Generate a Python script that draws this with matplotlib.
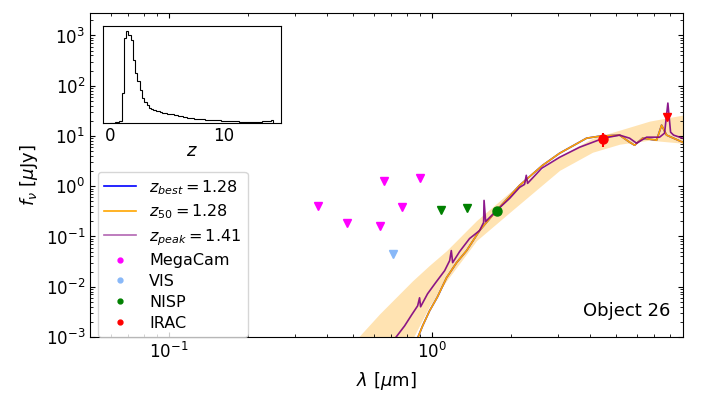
import numpy as np
import matplotlib
matplotlib.use('Agg')
import matplotlib.pyplot as plt
from matplotlib.lines import Line2D

# photometry (upper limits drawn as triangles, detections as circles)
megacam_lam = [0.368, 0.476, 0.636, 0.656, 0.766, 0.896]
megacam_lim = [0.40, 0.184, 0.158, 1.27, 0.39, 1.48]
vis_lam = [0.71]
vis_lim = [0.045]
nisp_lim_lam = [1.077, 1.36]
nisp_lim = [0.34, 0.37]
nisp_det_lam = [1.76]
nisp_det = [0.314]
irac_det_lam = [4.48]
irac_det = [8.9]
irac_det_err = [2.8]
irac_lim_lam = [7.84]
irac_lim = [23.4]

# template at z_peak
peak_lam = [0.689, 0.720, 0.786, 0.836, 0.881, 0.896, 0.904, 0.961, 1.031, 1.116,
            1.166, 1.183, 1.197, 1.272, 1.388, 1.516, 1.570, 1.576, 1.598, 1.759,
            1.971, 2.151, 2.247, 2.281, 2.307, 2.609, 3.054, 3.638, 4.488, 5.164,
            5.636, 5.993, 6.541, 7.328, 7.656, 7.881, 8.07, 8.285, 8.965]
peak_flux = [0.00066, 0.00091, 0.00166, 0.00275, 0.00416, 0.00601, 0.00398, 0.00723,
             0.01199, 0.02083, 0.0330, 0.0523, 0.0301, 0.0499, 0.0908, 0.1312, 0.1895,
             0.522, 0.1984, 0.329, 0.572, 0.948, 1.089, 1.648, 1.14, 2.27, 3.77, 5.97,
             9.04, 10.4, 9.04, 7.18, 9.46, 9.46, 11.38, 45.2, 11.9, 10.4, 9.04]

# template at z_best / z_50 (same redshift)
best_lam = [0.865, 0.881, 0.920, 0.978, 1.049, 1.135, 1.239, 1.353, 1.516, 1.759,
            2.151, 2.632, 3.054, 3.868, 4.335, 5.164, 5.636, 5.889, 6.317, 7.141,
            7.459, 7.792, 8.965]
best_flux = [0.00066, 0.00095, 0.00166, 0.00331, 0.00632, 0.0151, 0.0301, 0.0523,
             0.1312, 0.329, 1.04, 2.61, 4.53, 9.04, 9.91, 10.4, 7.52, 6.55, 9.04,
             8.24, 16.4, 10.4, 7.52]

# 16-84 percentile envelope
band_lam = [0.5207, 0.6315, 0.8430, 0.9783, 1.1352, 1.4763, 1.9711, 3.0535,
            4.0763, 5.1643, 6.7141, 8.9646]
band_hi = [0.00095, 0.00288, 0.01315, 0.0268, 0.0523, 0.2078, 0.754, 3.95,
           9.04, 13.06, 19.76, 26.04]
band_lo = [5e-6, 4e-5, 0.00091, 0.00416, 0.01315, 0.0828, 0.300, 2.07,
           4.75, 6.86, 8.24, 7.18]

# P(z) histogram, bins of 0.2 starting at z=0
pz_counts = [1, 1, 2, 3, 6, 90, 255, 276, 262, 248, 188, 148, 125, 100, 76, 62,
             54, 46, 42, 39, 37, 35, 33, 31, 30, 28, 27, 26, 25, 24, 22, 20,
             19, 18, 16, 15, 14, 13, 12, 12, 11, 11, 10, 10, 10, 9, 9, 8,
             8, 7, 7, 7, 6, 6, 5, 5, 5, 4, 4, 4, 3, 3, 4, 3,
             3, 4, 4, 5, 5, 6, 7, 10]
pz_edges = np.round(np.arange(len(pz_counts) + 1) * 0.2, 1)

z_best, z_50, z_peak = 1.28, 1.28, 1.41

fig = plt.figure(figsize=(7.03, 3.95), dpi=100)
ax = fig.add_axes([0.128, 0.147, 0.8436, 0.820])

ax.fill_between(band_lam, band_lo, band_hi, color='orange', alpha=0.3, lw=0)
ax.plot(best_lam, best_flux, color='blue', lw=1.2)
ax.plot(best_lam, best_flux, color='orange', lw=1.2)
ax.plot(peak_lam, peak_flux, color='purple', lw=1.2, alpha=0.9)

ax.plot(megacam_lam, megacam_lim, 'v', color='magenta', ms=6, ls='none')
ax.plot(vis_lam, vis_lim, 'v', color='#88b8f8', ms=6, ls='none')
ax.plot(nisp_lim_lam, nisp_lim, 'v', color='green', ms=6, ls='none')
ax.plot(nisp_det_lam, nisp_det, 'o', color='green', ms=6.5, ls='none')
ax.errorbar(irac_det_lam, irac_det, yerr=irac_det_err, fmt='o', color='red', ms=6.5)
ax.plot(irac_lim_lam, irac_lim, 'v', color='red', ms=6, ls='none')

ax.set_xscale('log')
ax.set_yscale('log')
ax.set_xlim(0.05, 9.0)
ax.set_ylim(1e-3, 2.8e3)
ax.tick_params(which='both', direction='in', top=True, right=True, labelsize=12)
ax.set_xlabel(r'$\lambda$ [$\mu$m]', fontsize=13, labelpad=6)
ax.set_ylabel(r'$f_\nu$ [$\mu$Jy]', fontsize=13)
ax.text(0.978, 0.08, 'Object 26', transform=ax.transAxes, ha='right', va='center',
        fontsize=13)

handles = [
    Line2D([], [], color='blue', lw=1.2, label=r'$z_{best} = %.2f$' % z_best),
    Line2D([], [], color='orange', lw=1.2, label=r'$z_{50} = %.2f$' % z_50),
    Line2D([], [], color='purple', lw=1.2, alpha=0.6, label=r'$z_{peak} = %.2f$' % z_peak),
    Line2D([], [], marker='o', color='magenta', ls='none', ms=3.5, label='MegaCam'),
    Line2D([], [], marker='o', color='#88b8f8', ls='none', ms=3.5, label='VIS'),
    Line2D([], [], marker='o', color='green', ls='none', ms=3.5, label='NISP'),
    Line2D([], [], marker='o', color='red', ls='none', ms=3.5, label='IRAC'),
]
ax.legend(handles=handles, loc='lower left', bbox_to_anchor=(0.0135, 0.0),
          borderaxespad=0, fontsize=11.5, labelspacing=0.36)

# inset with the redshift distribution
axin = fig.add_axes([0.1465, 0.6886, 0.2532, 0.2456])
axin.stairs(pz_counts, pz_edges, color='black', lw=0.8)
axin.set_xlim(-0.65, 15.1)
axin.set_ylim(0, max(pz_counts) * 1.05)
axin.set_xticks([0, 10])
axin.set_yticks([])
axin.tick_params(labelsize=12, direction='in', length=0, pad=3)
axin.set_xlabel(r'$z$', fontsize=13, labelpad=-2)

fig.savefig('out.png', dpi=100)
